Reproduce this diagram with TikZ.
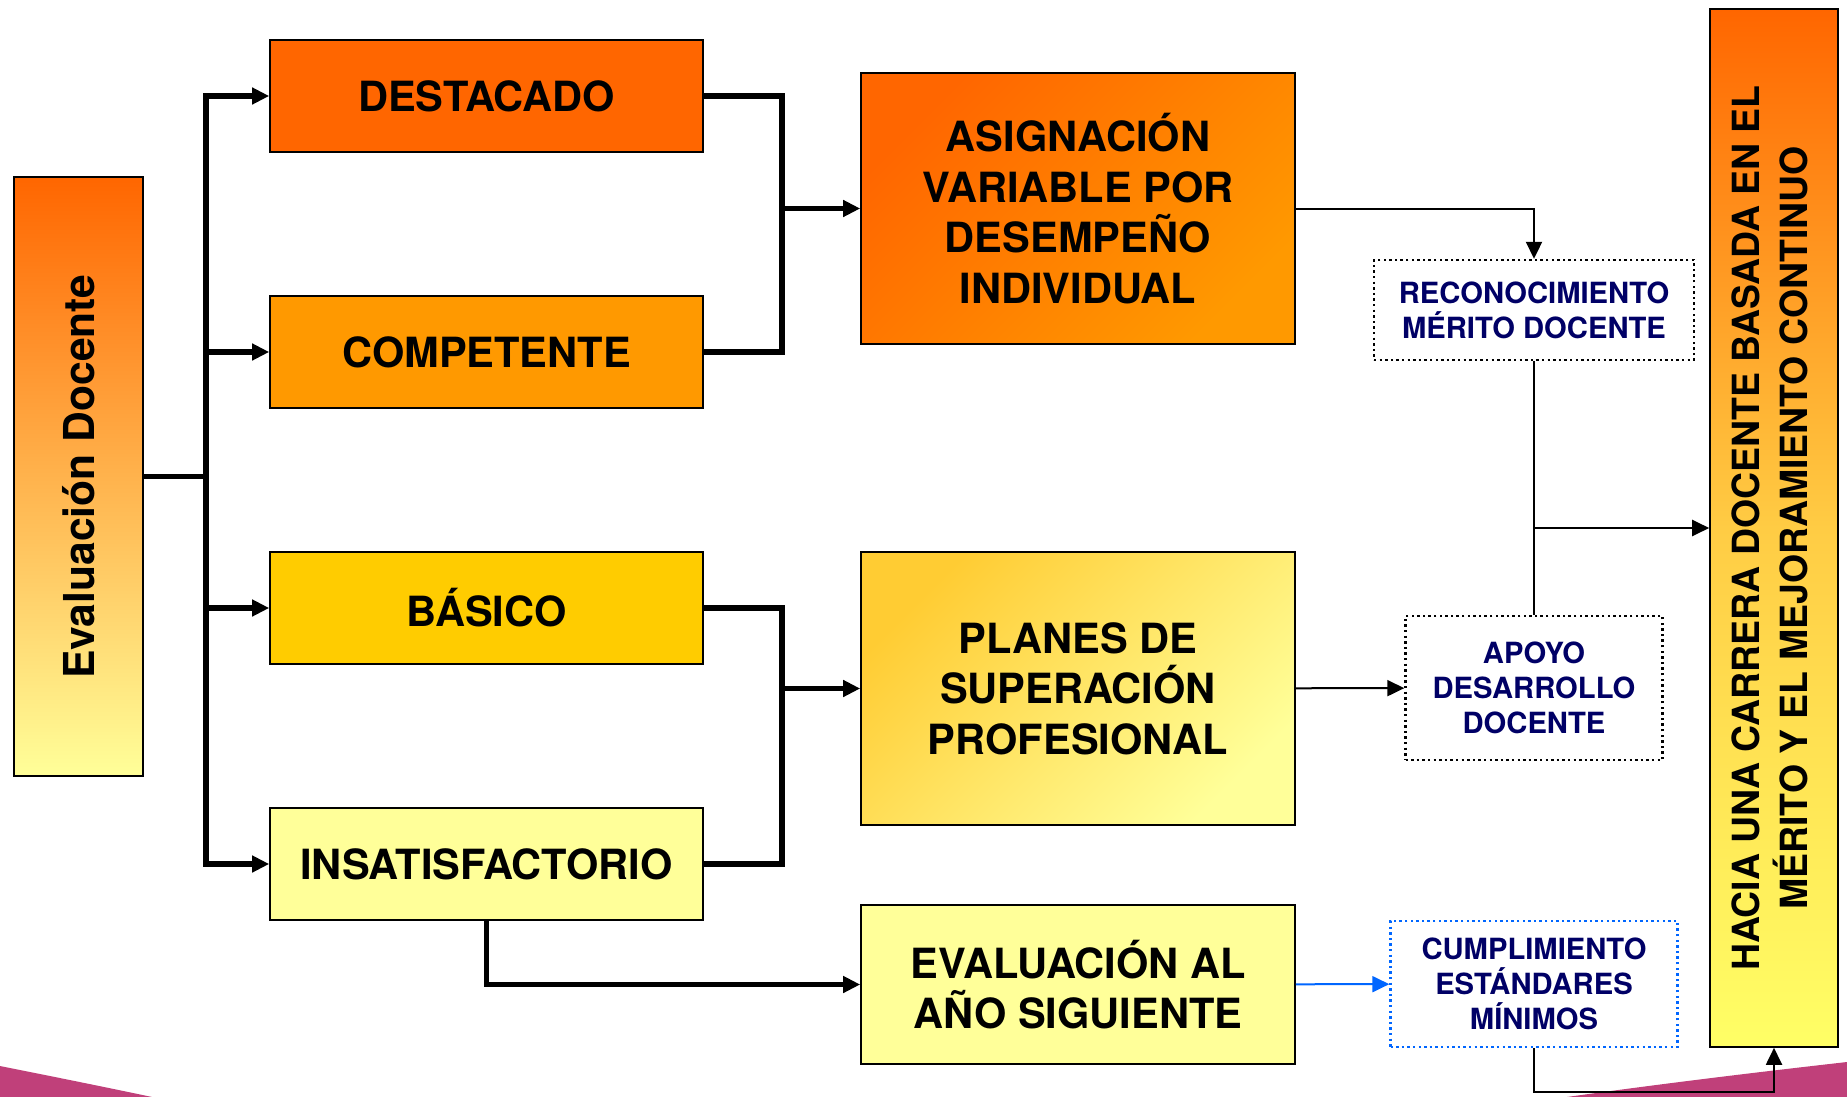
\documentclass[tikz,border=0pt]{standalone}
\usepackage{fontspec}
\setmainfont{TeX Gyre Heros}
\usetikzlibrary{arrows.meta}
\definecolor{destacado}{HTML}{FF6600}
\definecolor{competente}{HTML}{FF9900}
\definecolor{basico}{HTML}{FFCC00}
\definecolor{insatis}{HTML}{FFFF99}
\definecolor{planestop}{HTML}{FFCC33}
\definecolor{metamid}{HTML}{FFCC44}
\definecolor{metalow}{HTML}{FFFF66}
\definecolor{navy}{HTML}{000066}
\definecolor{blueline}{HTML}{0066FF}
\definecolor{pinkbg}{HTML}{C0407A}

\begin{document}
\begin{tikzpicture}[x=0.5pt, y=-0.5pt, >={Triangle[length=8.5pt,width=8pt]},
    box/.style={draw=black, line width=0.8pt, inner sep=0pt, align=center,
      font=\fontsize{20.8}{25.3}\selectfont\bfseries},
    level/.style={box, minimum width=216.5pt, minimum height=56pt},
    result/.style={box, minimum width=217pt},
    note/.style={draw=black, line width=1.2pt, dash pattern=on 1.2pt off 1.6pt,
      inner sep=0pt, align=center, text=navy,
      font=\fontsize{14.6}{17.5}\selectfont\bfseries},
    bus/.style={line width=2.6pt},
    link/.style={line width=1pt}]
    \useasboundingbox (0, 0) rectangle (1847, 1097);
    \fill [pinkbg] (0, 1066) .. controls (50, 1076) and (100, 1086) .. (152, 1097) -- (0, 1097) -- cycle;
    \fill [pinkbg] (1567, 1097) .. controls (1660, 1084) and (1750, 1073) .. (1847, 1062) -- (1847, 1097) -- cycle;
    \node[box, minimum width=64.5pt, minimum height=299.5pt, top color=destacado, bottom color=insatis,
      font=\fontsize{21.3}{25}\selectfont\bfseries] (eval) at (78.5, 476.5) {\rotatebox{90}{Evaluación Docente}};
    \node[level, fill=destacado] (dest) at (486.5, 96) {DESTACADO};
    \node[level, fill=competente] (comp) at (486.5, 352) {COMPETENTE};
    \node[level, fill=basico] (basi) at (486.5, 608) {BÁSICO};
    \node[level, fill=insatis] (insa) at (486.5, 864) {INSATISFACTORIO};
    \node[result, minimum height=135.5pt, top color=destacado, bottom color=competente, shading angle=45]
      (asig) at (1078, 208.5) {ASIGNACIÓN\\VARIABLE POR\\DESEMPEÑO\\INDIVIDUAL};
    \node[result, minimum height=136.5pt, top color=planestop, bottom color=insatis, shading angle=45]
      (plan) at (1078, 688.5) {PLANES DE\\SUPERACIÓN\\PROFESIONAL};
    \node[result, minimum height=79.5pt, fill=insatis] (anio) at (1078, 984.5) {EVALUACIÓN AL\\AÑO SIGUIENTE};
    \node[note, minimum width=160pt, minimum height=50pt] (reco) at (1534, 310) {RECONOCIMIENTO\\MÉRITO DOCENTE};
    \node[note, minimum width=128.5pt, minimum height=72pt] (apoy) at (1534, 688) {APOYO\\DESARROLLO\\DOCENTE};
    \node[note, draw=blueline, minimum width=143.5pt, minimum height=63pt] (cump) at (1534, 984) {CUMPLIMIENTO\\ESTÁNDARES\\MÍNIMOS};
    \node[box, minimum width=64pt, minimum height=519pt, top color=destacado, bottom color=metalow, middle color=metamid,
      font=\fontsize{18.7}{23.5}\selectfont\bfseries] (meta) at (1774, 528)
      {\rotatebox{90}{\begin{tabular}{@{}c@{}}HACIA UNA CARRERA DOCENTE BASADA EN EL\\MÉRITO Y EL MEJORAMIENTO CONTINUO\end{tabular}}};
    \coordinate (bus) at (206, 476.5);
    \coordinate (up) at (782, 208.5);
    \coordinate (down) at (782, 688.5);
    \coordinate (join) at (1534, 528);
    \coordinate (low) at (1534, 1092);
    \draw [bus] (eval) to (bus);
    \draw [bus, ->] (bus) |- (dest);
    \draw [bus, ->] (bus) |- (comp);
    \draw [bus, ->] (bus) |- (basi);
    \draw [bus, ->] (bus) |- (insa);
    \draw [bus] (dest) -| (up);
    \draw [bus] (comp) -| (up);
    \draw [bus, ->] (up) to (asig);
    \draw [bus] (basi) -| (down);
    \draw [bus] (insa) -| (down);
    \draw [bus, ->] (down) to (plan);
    \draw [bus, ->] (insa) |- (anio);
    \draw [link, ->] (asig) -| (reco);
    \draw [link] (reco) to (apoy);
    \draw [link, ->] (join) to (meta.west |- join);
    \draw [link, ->] (plan) to (apoy);
    \draw [link, ->, blueline] (anio) to (cump);
    \draw [link, ->] (cump) to (low) -| (meta);
  \end{tikzpicture}
\end{document}
